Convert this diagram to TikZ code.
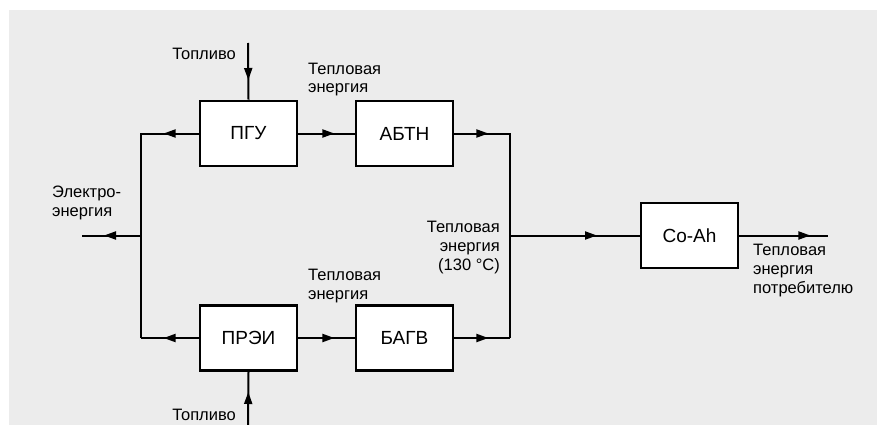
\documentclass[tikz,border=0pt]{standalone}
\usepackage{fontspec}
\setmainfont{Liberation Sans}
\usetikzlibrary{arrows.meta,decorations.markings}
\definecolor{panel}{HTML}{ECECEC}
\tikzset{
  unit/.style={draw, line width=2.8pt, fill=white, minimum width=97pt, minimum height=65pt,
    inner sep=0pt, font=\fontsize{19}{22}\selectfont},
  flow/.style={line width=2pt},
  tipat/.style={postaction={decorate, decoration={markings,
    mark=at position #1 with {\arrow{Triangle[length=12pt,width=8pt]}}}}},
  lbl/.style={inner sep=0pt, font=\fontsize{16.5}{18.7}\selectfont},
}
\begin{document}
\begin{tikzpicture}[x=1pt,y=-1pt]
  \useasboundingbox (0,0) rectangle (877,425);
  \fill[panel] (9,10) rectangle (877,425);

  % units
  \node[unit] (pgu)  at (248.5,133.5) {ПГУ};
  \node[unit] (abtn) at (404.5,133.5) {АБТН};
  \node[unit] (prei) at (248.5,338)   {ПРЭИ};
  \node[unit] (bagv) at (404.5,338)   {БАГВ};
  \node[unit] (coah) at (689.5,235.5) {Co-Ah};

  % junction points and free ends
  \coordinate (fuelA) at (248,43);
  \coordinate (fuelB) at (248,425);
  \coordinate (lt) at (141,133.5);
  \coordinate (lb) at (141,338);
  \coordinate (lm) at (141,235.5);
  \coordinate (elout) at (82,235.5);
  \coordinate (rt) at (510,133.5);
  \coordinate (rb) at (510,338);
  \coordinate (rm) at (510,235.5);
  \coordinate (heatout) at (828,235.5);

  % fuel inputs
  \draw[flow, tipat=37pt] (fuelA) -- (pgu.north);
  \draw[flow, tipat=33pt] (fuelB) -- (prei.south);

  % electricity bus
  \draw[flow, tipat=35pt] (pgu.west) -- (lt) -- (lb);
  \draw[flow, tipat=35pt] (prei.west) -- (lb);
  \draw[flow, tipat=37pt] (lm) -- (elout);

  % heat path
  \draw[flow, tipat=36pt] (pgu.east) -- (abtn.west);
  \draw[flow, tipat=36pt] (prei.east) -- (bagv.west);
  \draw[flow, tipat=34pt] (abtn.east) -- (rt) -- (rb);
  \draw[flow, tipat=34pt] (bagv.east) -- (rb);
  \draw[flow, tipat=87pt] (rm) -- (coah.west);
  \draw[flow, tipat=71pt] (coah.east) -- (heatout);

  % labels (multi-line nodes are anchored at the baseline of their last line)
  \node[lbl, anchor=base east] (tfA) at (236,60) {Топливо};
  \node[lbl, anchor=base east] (tfB) at (236,420) {Топливо};
  \node[lbl, anchor=base west, align=left] (tel) at (52,216) {Электро-\\энергия};
  \node[lbl, anchor=base west, align=left] (thA) at (308,93) {Тепловая\\энергия};
  \node[lbl, anchor=base west, align=left] (thB) at (308,299) {Тепловая\\энергия};
  \node[lbl, anchor=base east, align=right] (th130) at (500,270) {Тепловая\\энергия\\(130 °C)};
  \node[lbl, anchor=base west, align=left] (thout) at (753,293) {Тепловая\\энергия\\потребителю};
\end{tikzpicture}
\end{document}
